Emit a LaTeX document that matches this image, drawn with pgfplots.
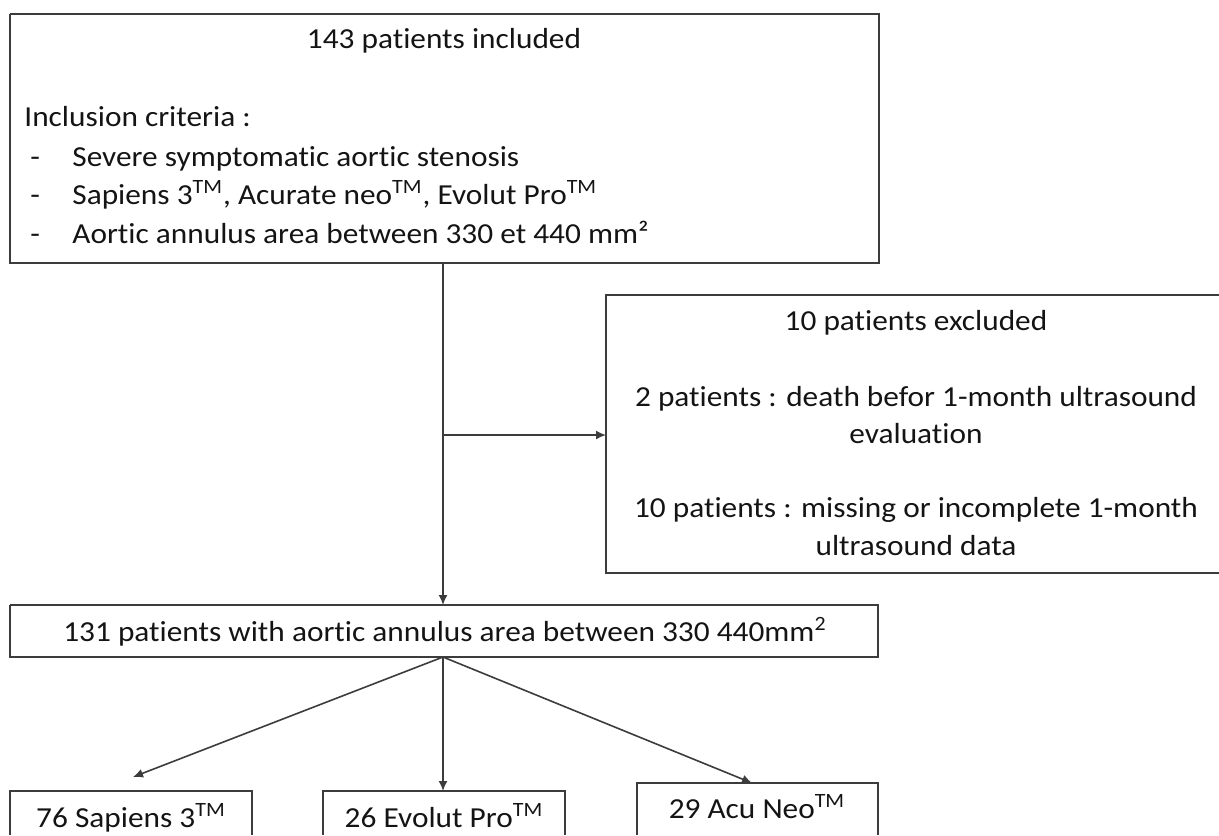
\documentclass[border=0pt]{standalone}
\usepackage{fontspec}
\setmainfont{Carlito}[FakeStretch=1.08, Ligatures={NoCommon,NoContextual}]
\usepackage{pgfplots}
\pgfplotsset{compat=1.18}
\usetikzlibrary{arrows.meta}

\definecolor{lines}{RGB}{60,60,60}
\definecolor{ink}{RGB}{20,20,20}

\begin{document}
\begin{tikzpicture}[
    box/.style={draw=lines, line width=0.9pt},
    arr/.style={draw=lines, line width=0.8pt, -{Latex[length=5pt,width=4.5pt]}},
    txt/.style={font=\fontsize{14.5}{17}\selectfont, text=ink, inner sep=0pt},
]
\begin{axis}[
    x=0.5pt, y=0.5pt,
    xmin=0, xmax=1219, ymin=0, ymax=835,
    y dir=reverse,
    hide axis,
    clip=true,
]
% frame for the bounding box
\addplot[draw=none] coordinates {(0,0) (1219,835)};

% boxes
\addplot[box] coordinates {(10,14) (879,14) (879,263) (10,263) (10,14)};
\addplot[box] coordinates {(1219,295) (606,295) (606,573) (1219,573)};
\addplot[box] coordinates {(10,605) (878,605) (878,657) (10,657) (10,605)};
\addplot[box] coordinates {(10,835) (10,791) (252,791) (252,835)};
\addplot[box] coordinates {(323,835) (323,791) (565,791) (565,835)};
\addplot[box] coordinates {(637,835) (637,783) (878,783) (878,835)};

% arrows
\addplot[arr] coordinates {(443,263) (443,605)};
\addplot[arr] coordinates {(443,435) (606,435)};
\addplot[arr] coordinates {(443,657) (133,777)};
\addplot[arr] coordinates {(443,657) (443,791)};
\addplot[arr] coordinates {(443,657) (752,783)};

% top box
\node[txt, anchor=base] at (axis cs:444,48) {143 patients included};
\node[txt, anchor=base west] at (axis cs:24,126) {Inclusion criteria :};
\node[txt, anchor=base west] at (axis cs:30,166) {-};
\node[txt, anchor=base west] at (axis cs:72,166) {Severe symptomatic aortic stenosis};
\node[txt, anchor=base west] at (axis cs:30,204) {-};
\node[txt, anchor=base west] at (axis cs:72,204) {Sapiens 3\textsuperscript{TM}, Acurate neo\textsuperscript{TM}, Evolut Pro\textsuperscript{TM}};
\node[txt, anchor=base west] at (axis cs:30,243) {-};
\node[txt, anchor=base west] at (axis cs:72,243) {Aortic annulus area between 330 et 440 mm²};

% exclusion box
\node[txt, anchor=base] at (axis cs:916,330) {10 patients excluded};
\node[txt, anchor=base] at (axis cs:916,406) {2 patients : death befor 1-month ultrasound};
\node[txt, anchor=base] at (axis cs:916,443) {evaluation};
\node[txt, anchor=base] at (axis cs:916,517) {10 patients : missing or incomplete 1-month};
\node[txt, anchor=base] at (axis cs:916,555) {ultrasound data};

% middle box
\node[txt, anchor=base] at (axis cs:445,641) {131 patients with aortic annulus area between 330 440mm\textsuperscript{2}};

% bottom boxes
\node[txt, anchor=base] at (axis cs:131,827) {76 Sapiens 3\textsuperscript{TM}};
\node[txt, anchor=base] at (axis cs:444,827) {26 Evolut Pro\textsuperscript{TM}};
\node[txt, anchor=base] at (axis cs:757,818) {29 Acu Neo\textsuperscript{TM}};
\end{axis}
\end{tikzpicture}
\end{document}
